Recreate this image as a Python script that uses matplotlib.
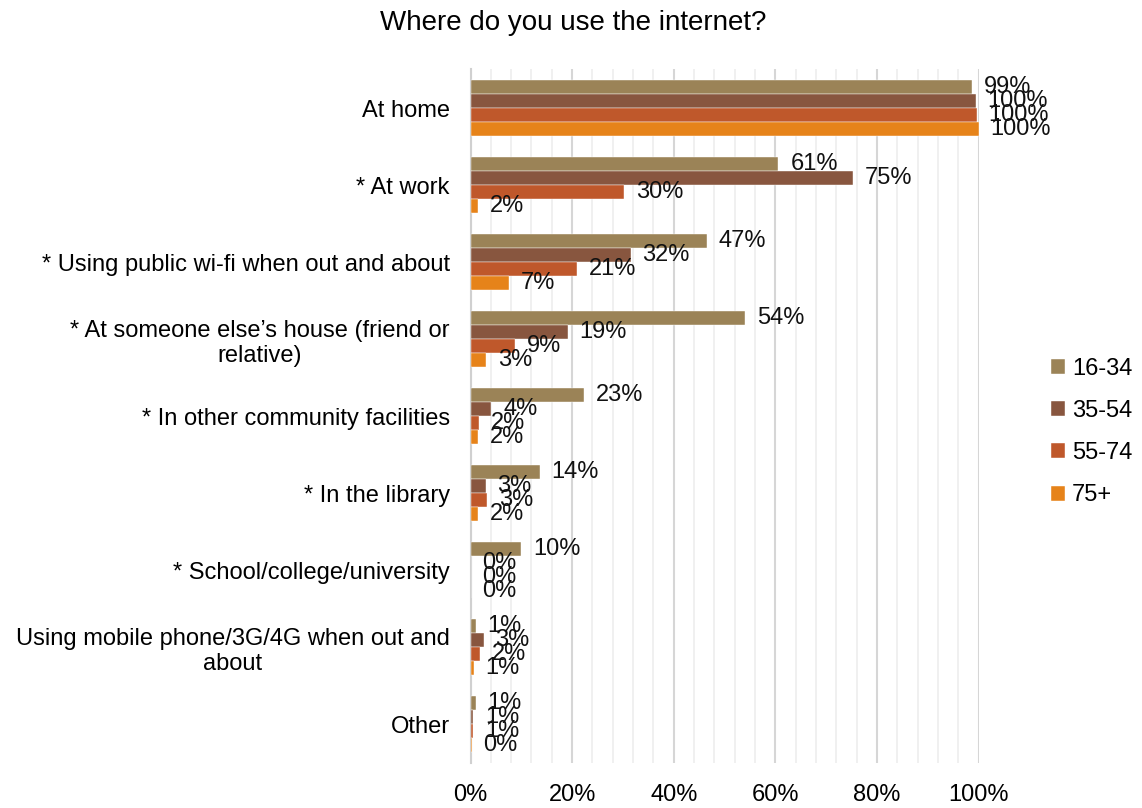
import numpy as np
import matplotlib
matplotlib.use("Agg")
from matplotlib import pyplot as plt
from matplotlib.ticker import MultipleLocator, FuncFormatter

plt.rcParams['font.family'] = ['Liberation Sans', 'DejaVu Sans']

categories = ["At home",
              "* At work",
              "* Using public wi-fi when out and about",
              "* At someone else\u2019s house (friend or\nrelative)",
              "* In other community facilities",
              "* In the library",
              "* School/college/university",
              "Using mobile phone/3G/4G when out and\nabout",
              "Other"]
groups = ["16-34", "35-54", "55-74", "75+"]
colors = ["#9B8357", "#88563F", "#BF582B", "#E6831A"]

# bar lengths (%)
v16_34 = [98.6, 60.6, 46.5, 54.1, 22.4, 13.6, 10.0, 1.0, 1.0]
v35_54 = [99.4, 75.2, 31.5, 19.1, 4.1, 3.0, 0.0, 2.6, 0.5]
v55_74 = [99.6, 30.3, 20.9, 8.7, 1.6, 3.3, 0.0, 1.8, 0.5]
v75 = [100.0, 1.4, 7.5, 3.1, 1.4, 1.4, 0.0, 0.6, 0.2]
# printed labels
l16_34 = ["99%", "61%", "47%", "54%", "23%", "14%", "10%", "1%", "1%"]
l35_54 = ["100%", "75%", "32%", "19%", "4%", "3%", "0%", "3%", "1%"]
l55_74 = ["100%", "30%", "21%", "9%", "2%", "3%", "0%", "2%", "1%"]
l75 = ["100%", "2%", "7%", "3%", "2%", "2%", "0%", "1%", "0%"]

series = [v16_34, v35_54, v55_74, v75]
labels = [l16_34, l35_54, l55_74, l75]

fig = plt.figure(figsize=(11.42, 8.08), dpi=100)
ax = fig.add_axes([0.412, 0.056, 0.445, 0.858])

y = np.arange(len(categories))
h = 0.182
for i, (vals, labs) in enumerate(zip(series, labels)):
    pos = y + (i - 1.5) * h
    bars = ax.barh(pos, vals, height=h, color=colors[i], label=groups[i],
                   edgecolor='white', linewidth=0.3, zorder=3)
    for b, t in zip(bars, labs):
        ax.annotate(t, (b.get_width(), b.get_y() + b.get_height() / 2),
                    xytext=(8.5, 0), textcoords='offset points',
                    va='center', ha='left', fontsize=17, color='#111111', zorder=4)

ax.set_ylim(len(categories) - 0.5, -0.5)
ax.set_xlim(0, 100)
ax.set_yticks(y)
ax.set_yticklabels(categories, fontsize=17, multialignment='center')
ax.xaxis.set_major_locator(MultipleLocator(20))
ax.xaxis.set_minor_locator(MultipleLocator(4))
ax.xaxis.set_major_formatter(FuncFormatter(lambda v, p: f"{v:.0f}%"))
ax.tick_params(axis='x', which='both', length=0, labelsize=17, pad=15)
ax.tick_params(axis='y', length=0, pad=15)
ax.grid(axis='x', which='minor', color='#EDEDED', linewidth=1.2, zorder=0)
ax.grid(axis='x', which='major', color='#D6D6D6', linewidth=1.5, zorder=0)
for s in ['top', 'right', 'bottom']:
    ax.spines[s].set_visible(False)
ax.spines['left'].set_color('#D0D0D0')
ax.spines['left'].set_linewidth(1.5)

leg = fig.legend(loc='center left', bbox_to_anchor=(0.912, 0.465), frameon=False,
                 fontsize=17, handlelength=0.6, handleheight=0.6,
                 labelspacing=0.85, handletextpad=0.3, borderaxespad=0)

fig.text(0.502, 0.972, "Where do you use the internet?", ha='center', va='center', fontsize=20)

fig.savefig("out.png", dpi=100)
